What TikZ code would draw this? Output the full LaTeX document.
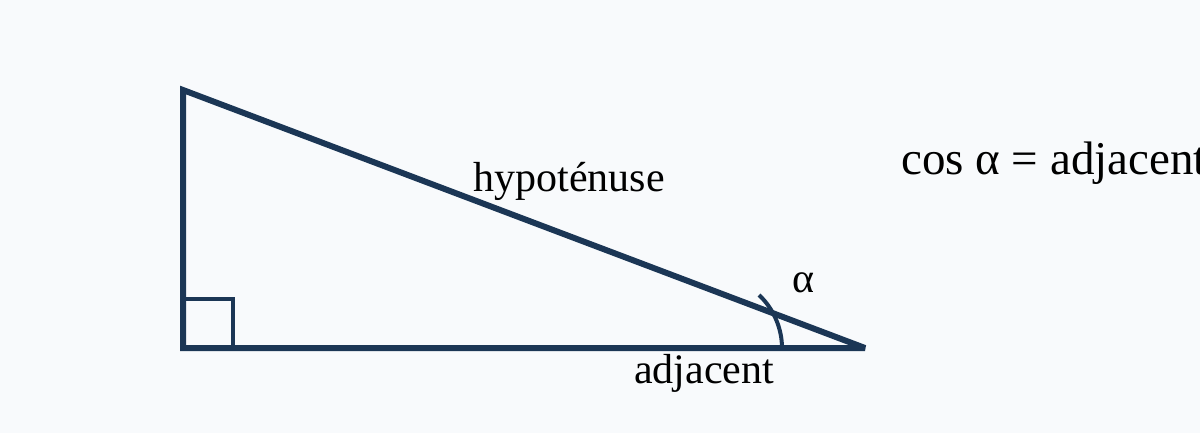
\documentclass[tikz,border=0pt]{standalone}
\usepackage{fontspec}
\setmainfont{Liberation Serif}
\definecolor{navy}{HTML}{1B3655}
\definecolor{paper}{HTML}{F8FAFC}
\tikzset{
    side/.style={draw=navy, line width=6pt, line join=miter, miter limit=4},
    tick/.style={draw=navy, line width=4pt},
    lbl/.style={text=black, inner sep=0pt, font=\fontsize{42}{50}\selectfont},
    formula/.style={text=black, inner sep=0pt, font=\fontsize{47}{56}\selectfont}
}
\begin{document}
\begin{tikzpicture}[x=1pt, y=-1pt]
        \fill[paper] (0,0) rectangle (1200,433);
        \useasboundingbox (0,0) rectangle (1200,433);
        \coordinate (top) at (183,90);
        \coordinate (rgt) at (183,348);
        \coordinate (tip) at (865,348);
        \draw[side] (top) -- (rgt) -- (tip) -- cycle;
        \draw[tick] (183,299) -- (233,299) -- (233,348);
        \draw[tick] (782,348) .. controls (782,329) and (774,309) .. (759,295);
        \node[lbl, anchor=base] (hyp) at (569,191) {hypoténuse};
        \node[lbl, anchor=base] (alpha) at (803,292) {α};
        \node[lbl, anchor=base] (adj) at (704,383) {adjacent};
        \node[formula, anchor=base west] (cosine) at (901,175) {cos α = adjacent};
    \end{tikzpicture}
\end{document}
